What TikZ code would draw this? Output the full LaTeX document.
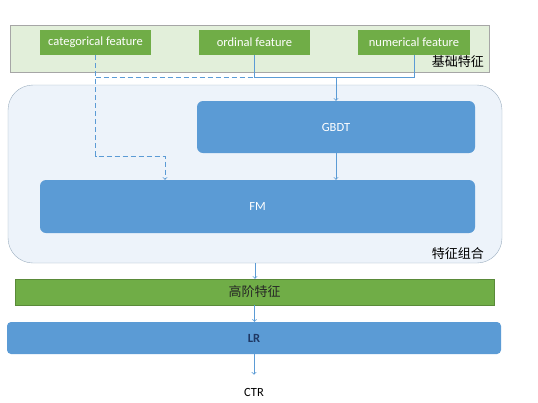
\documentclass[tikz,border=0pt]{standalone}
\usepackage{fontspec}
\setmainfont{Carlito}
\newfontfamily\cjk{Noto Sans CJK SC}
\definecolor{boxgreen}{HTML}{70AD47}
\definecolor{bandgreen}{HTML}{E2EFDA}
\definecolor{boxblue}{HTML}{5B9BD5}
\definecolor{paleblue}{HTML}{EDF3FA}
\definecolor{navy}{HTML}{1F3864}
\begin{document}
\begin{tikzpicture}[x=1pt,y=-1pt,->,draw=boxblue,font=\fontsize{12.5}{14}\selectfont]
	\tikzstyle{every node}=[inner sep=0pt]
	\tikzstyle{feature}=[fill=boxgreen,text=white,minimum width=111pt,minimum height=25pt]
	\tikzstyle{model}=[fill=boxblue,text=white,rounded corners=6pt]
	\tikzstyle{tag}=[anchor=east,font=\cjk\fontsize{13}{15}\selectfont]
	\tikzstyle{link}=[draw=boxblue,thick]
	\useasboundingbox (0,0) rectangle (538,402);

	% Base features
	\node[draw=black!35,fill=bandgreen,minimum width=479pt,minimum height=47pt] (base) at (249.5,48.5) {};
	\node[feature] (cat) at (95.5,42.5) {categorical feature};
	\node[feature] (ord) at (254.5,42.5) {ordinal feature};
	\node[feature,minimum width=112pt] (num) at (414,42) {numerical feature};
	\node[tag] (baselabel) at (484,62) {基础特征};

	% Feature combination
	\node[draw=boxblue!60!black!50,fill=paleblue,rounded corners=25pt,minimum width=494pt,minimum height=178pt] (combo) at (255,174) {};
	\node[model,minimum width=278pt,minimum height=52pt] (gbdt) at (336,127) {GBDT};
	\node[model,minimum width=435pt,minimum height=53pt] (fm) at (257.5,206.5) {FM};
	\node[tag] (combolabel) at (484,254) {特征组合};

	% High order features, LR, CTR
	\node[fill=boxgreen,draw=boxgreen!80!black,minimum width=479pt,minimum height=26pt,font=\cjk\fontsize{13}{15}\selectfont,text=black!85] (high) at (254.5,292) {高阶特征};
	\node[model,rounded corners=4pt,minimum width=494pt,minimum height=32pt,text=navy,font=\bfseries\fontsize{12.5}{14}\selectfont] (lr) at (254,338) {LR};
	\node (ctr) at (254,392) {CTR};

	% Connectors
	\coordinate (join) at (336,77);
	\coordinate (bend) at (165,156);
	\path[link,-] (ord.south) |- (join);
	\path[link,-] (num.south) |- (join);
	\path[link,dash pattern=on 5pt off 3pt,-] (cat.south |- join) -- (ord.south |- join);
	\path[link,dash pattern=on 5pt off 3pt] (cat.south) |- (bend) -- (fm.north -| bend);
	\path[link] (join) -- (gbdt.north);
	\path[link] (gbdt.south) -- (fm.north -| gbdt.south);
	\path[link] (combo.south) -- (high.north -| combo.south);
	\path[link] (high.south) -- (lr.north -| high.south);
	\path[link,shorten >=13pt] (lr.south) -- (ctr.north);
\end{tikzpicture}
\end{document}
